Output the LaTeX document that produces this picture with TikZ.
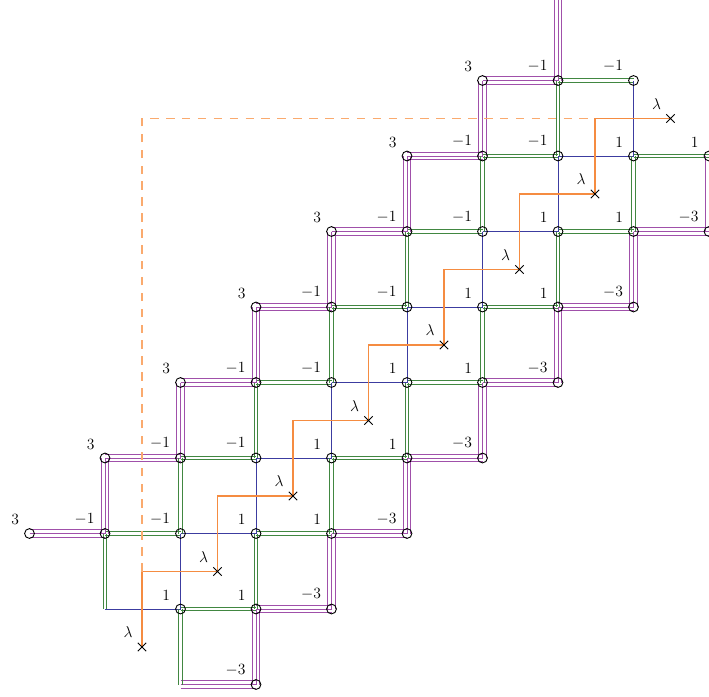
\RequirePackage{fix-cm}
\documentclass[tikz,border=0pt]{standalone}
\usetikzlibrary{shapes.misc}
\definecolor{pcol}{RGB}{160,80,170}
\definecolor{gcol}{RGB}{65,135,65}
\definecolor{bcol}{RGB}{60,60,160}
\definecolor{ocol}{RGB}{245,140,65}
\definecolor{dcol}{RGB}{250,170,110}
\tikzset{
  pline/.style={draw=pcol,line width=1pt},
  gline/.style={draw=gcol,line width=1pt},
  bline/.style={draw=bcol,line width=1pt},
  oline/.style={draw=ocol,line width=1.2pt},
  odash/.style={draw=dcol,line width=1.3pt,dash pattern=on 8.5pt off 7.4pt},
  vtx/.style={circle,draw=black,line width=0.9pt,minimum size=9.8pt,inner sep=0pt},
  lab/.style={anchor=south east,inner sep=0pt,font=\fontsize{15.6}{18}\selectfont},
  xmark/.style={cross out,draw=black,line width=0.9pt,minimum size=7.5pt,inner sep=0pt},
}
\newcommand\EhP[2]{\foreach \sh in {-3.8,0,3.8}{\draw[pline,transform canvas={yshift=\sh pt}] (#1) -- (#2);}}
\newcommand\EvP[2]{\foreach \sh in {-3.8,0,3.8}{\draw[pline,transform canvas={xshift=\sh pt}] (#1) -- (#2);}}
\newcommand\EhG[2]{\foreach \sh in {-1.7,1.7}{\draw[gline,transform canvas={yshift=\sh pt}] (#1) -- (#2);}}
\newcommand\EvG[2]{\foreach \sh in {-1.7,1.7}{\draw[gline,transform canvas={xshift=\sh pt}] (#1) -- (#2);}}
\newcommand\EB[2]{\draw[bline] (#1) -- (#2);}
\def\nodelist{6/0/3,7/0/-1,8/0/-1,
5/1/3,6/1/-1,7/1/-1,8/1/1,9/1/1,
4/2/3,5/2/-1,6/2/-1,7/2/1,8/2/1,9/2/-3,
3/3/3,4/3/-1,5/3/-1,6/3/1,7/3/1,8/3/-3,
2/4/3,3/4/-1,4/4/-1,5/4/1,6/4/1,7/4/-3,
1/5/3,2/5/-1,3/5/-1,4/5/1,5/5/1,6/5/-3,
0/6/3,1/6/-1,2/6/-1,3/6/1,4/6/1,5/6/-3,
2/7/1,3/7/1,4/7/-3,
3/8/-3}
\begin{document}
\begin{tikzpicture}[x=1pt,y=-1pt]
\useasboundingbox (-0.5,-0.5) rectangle (708.5,695.5);
% lattice points
\foreach \c/\r/\l in \nodelist {
  \coordinate (n\c\r) at ({29+75.5*\c},{80+75.5*\r});
}
\coordinate (n17) at (104.5,608.5);
\coordinate (n28) at (180,684);
\coordinate (ntop) at (557.5,-4);
% horizontal edges
\foreach \a/\r in {6/0,5/1,4/2,3/3,2/4,1/5,0/6,8/2,7/3,6/4,5/5,4/6,3/7,2/8}{\pgfmathtruncatemacro\b{\a+1}\EhP{n\a\r}{n\b\r}}
\foreach \a/\r in {7/0,6/1,5/2,4/3,3/4,2/5,1/6,8/1,7/2,6/3,5/4,4/5,3/6,2/7}{\pgfmathtruncatemacro\b{\a+1}\EhG{n\a\r}{n\b\r}}
\foreach \a/\r in {7/1,6/2,5/3,4/4,3/5,2/6,1/7}{\pgfmathtruncatemacro\b{\a+1}\EB{n\a\r}{n\b\r}}
% vertical edges
\foreach \c/\r in {6/0,5/1,4/2,3/3,2/4,1/5,9/1,8/2,7/3,6/4,5/5,4/6,3/7}{\pgfmathtruncatemacro\s{\r+1}\EvP{n\c\r}{n\c\s}}
\EvP{ntop}{n70}
\foreach \c/\r in {7/0,6/1,5/2,4/3,3/4,2/5,1/6,8/1,7/2,6/3,5/4,4/5,3/6,2/7}{\pgfmathtruncatemacro\s{\r+1}\EvG{n\c\r}{n\c\s}}
\foreach \c/\r in {8/0,7/1,6/2,5/3,4/4,3/5,2/6}{\pgfmathtruncatemacro\s{\r+1}\EB{n\c\r}{n\c\s}}
% orange staircase
\foreach \k in {0,...,7}{\coordinate (p\k) at ({670-75.5*\k},{118+75.5*\k});}
\foreach \k in {0,...,6}{\pgfmathtruncatemacro\m{\k+1}\draw[oline] (p\k) -| (p\m);}
\draw[odash] (p7 |- p6) -- (p7 |- p0) -- (p1 |- p0);
% vertices and labels
\foreach \c/\r/\l in \nodelist {
  \node[vtx] (v\c\r) at (n\c\r) {};
  \node[lab] (t\c\r) at ({18.7+75.5*\c},{71.3+75.5*\r}) {$\l$};
}
% crosses
\foreach \k in {0,...,7}{
  \node[xmark] (x\k) at (p\k) {};
  \node[lab] (lam\k) at ({660.7-75.5*\k},{108.7+75.5*\k}) {$\lambda$};
}
\end{tikzpicture}
\end{document}
